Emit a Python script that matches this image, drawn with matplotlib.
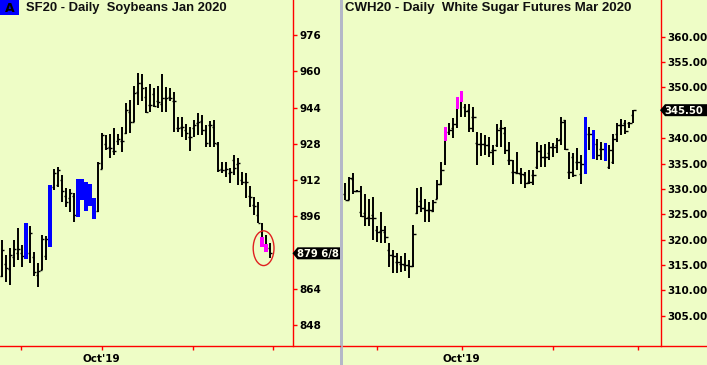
import matplotlib
matplotlib.use("Agg")
import matplotlib.pyplot as plt
from matplotlib.patches import Rectangle, Ellipse, Polygon
from matplotlib.lines import Line2D
import numpy as np

# ---- Soybeans SF20 (daily bars, left panel) ----
sf_high = [885.6, 879.0, 881.9, 885.6, 890.8, 883.4, 893.3, 891.8, 880.5, 875.3,
           887.8, 887.4, 909.9, 916.9, 918.0, 914.3, 908.4, 908.0, 906.2, 912.5,
           912.5, 911.3, 910.5, 904.3, 920.2, 932.6, 931.9, 932.4, 935.2, 932.2,
           935.6, 945.9, 947.4, 953.7, 959.1, 958.7, 953.2, 954.4, 952.5, 953.7,
           958.7, 953.2, 952.8, 951.0, 940.0, 940.0, 936.6, 935.6, 938.5, 941.5,
           940.7, 936.3, 938.2, 938.5, 929.0, 920.2, 920.2, 917.2, 923.1, 921.6,
           915.8, 915.0, 909.4, 904.7, 902.5, 893.0, 887.8, 884.4]
sf_low = [869.4, 867.2, 865.8, 873.9, 876.8, 873.9, 877.4, 875.3, 869.7, 865.0,
          872.4, 876.8, 882.7, 907.7, 909.1, 902.5, 900.3, 898.1, 893.7, 895.9,
          903.3, 898.5, 900.6, 894.9, 898.1, 916.8, 925.3, 921.9, 923.1, 927.5,
          924.6, 932.2, 932.6, 937.5, 945.1, 946.9, 941.5, 941.9, 944.4, 943.7,
          942.2, 941.9, 946.9, 933.4, 933.4, 931.2, 929.7, 924.9, 931.0, 931.9,
          931.9, 926.8, 926.8, 926.8, 915.8, 915.0, 913.5, 910.9, 914.3, 909.9,
          909.9, 904.0, 900.3, 896.6, 893.0, 882.4, 880.5, 877.5]
sf_open = [869.7, 875.0, 873.0, 878.0, 880.0, 880.0, 877.4, 880.0, 878.0, 870.0,
           872.5, 878.6, 882.7, 909.0, 910.0, 912.0, 905.0, 904.0, 905.0, 895.9,
           903.3, 898.5, 900.6, 894.9, 898.4, 916.8, 927.8, 926.8, 925.0, 929.3,
           929.3, 932.6, 942.0, 937.8, 951.0, 955.0, 948.5, 945.0, 950.0, 947.0,
           945.4, 948.0, 948.5, 946.9, 935.0, 935.6, 934.0, 931.0, 935.0, 937.0,
           938.2, 934.0, 936.3, 935.3, 928.0, 917.0, 916.5, 915.0, 920.9, 919.0,
           912.0, 911.3, 905.0, 901.0, 896.6, 887.1, 883.9, 882.0]
sf_close = [881.2, 873.1, 878.9, 881.7, 881.7, 878.6, 893.3, 888.6, 871.7, 872.1,
            885.9, 885.9, 909.9, 915.0, 916.5, 907.4, 902.5, 906.2, 896.6, 912.5,
            912.5, 911.3, 910.5, 904.3, 919.5, 931.9, 926.3, 926.0, 924.8, 930.2,
            929.3, 943.0, 937.8, 950.3, 954.7, 952.8, 941.9, 945.1, 944.8, 946.6,
            948.1, 948.1, 948.1, 946.9, 935.1, 935.6, 933.0, 930.8, 936.3, 937.8,
            934.1, 928.2, 936.3, 928.2, 916.5, 916.5, 917.0, 915.7, 917.2, 919.4,
            911.3, 911.3, 904.7, 900.6, 893.3, 882.4, 880.5, 879.75]
sf_paint = {6: "b", 12: "b", 19: "b", 20: "b", 21: "b", 22: "b", 23: "b",
            65: "m", 66: "m"}
sf_month_ticks = [4.75, 24.9, 47.75, 67.75]
sf_yticks = [848, 864, 896, 912, 928, 944, 960, 976]
sf_last = "879 6/8"

# ---- White Sugar CWH20 (daily bars, right panel) ----
sb_high = [331.1, 332.4, 333.2, 329.8, 330.6, 328.9, 328.1, 328.5, 322.6, 325.5,
           322.6, 319.3, 318.0, 317.3, 316.7, 317.3, 316.0, 322.9, 330.2, 330.4,
           328.1, 327.5, 327.8, 331.7, 335.3, 342.2, 342.9, 344.0, 348.1, 349.2,
           346.8, 346.8, 346.2, 341.2, 341.1, 340.7, 340.3, 338.7, 342.7, 343.5,
           342.2, 339.3, 335.7, 337.3, 334.2, 333.4, 333.7, 333.7, 339.3, 338.6,
           338.8, 339.3, 339.1, 340.1, 344.2, 343.5, 337.3, 337.0, 338.0, 336.7,
           344.2, 342.2, 341.6, 339.9, 339.3, 339.1, 338.6, 340.9, 342.9, 343.7,
           343.5, 343.2, 345.6]
sb_low = [327.8, 327.8, 328.9, 329.4, 324.5, 322.6, 322.6, 319.9, 319.6, 319.3,
          319.3, 314.7, 313.4, 313.4, 313.7, 313.8, 312.5, 314.7, 325.0, 325.5,
          323.5, 323.5, 325.5, 328.1, 330.7, 334.7, 340.7, 340.1, 342.0, 344.2,
          344.2, 341.2, 341.2, 334.7, 336.5, 336.6, 336.3, 334.7, 338.3, 338.3,
          336.8, 334.7, 330.9, 333.0, 330.9, 330.1, 330.9, 330.7, 334.0, 334.4,
          334.4, 335.7, 336.3, 337.0, 338.6, 337.6, 331.9, 332.4, 333.7, 330.9,
          333.0, 337.6, 335.8, 335.7, 335.7, 335.5, 334.0, 335.0, 339.3, 340.6,
          340.9, 341.9, 342.9]
sb_open = [328.9, 327.9, 332.0, 329.6, 325.4, 325.2, 324.5, 324.8, 321.9, 321.8,
           321.5, 318.0, 316.9, 315.6, 315.3, 315.1, 315.0, 314.8, 325.2, 327.6,
           326.2, 325.8, 325.6, 328.1, 330.9, 339.4, 341.2, 342.0, 345.7, 347.1,
           346.2, 345.5, 344.2, 339.0, 338.9, 338.8, 338.7, 337.6, 338.6, 341.9,
           341.0, 335.7, 333.4, 333.2, 333.0, 332.7, 331.3, 332.8, 334.3, 337.5,
           336.3, 337.0, 338.3, 338.6, 339.9, 343.5, 333.4, 336.3, 335.3, 333.0,
           333.0, 340.9, 335.8, 338.9, 337.9, 335.5, 334.3, 335.3, 340.9, 342.6,
           343.0, 342.9, 344.5]
sb_close = [327.9, 332.2, 329.6, 329.6, 324.6, 324.2, 324.2, 324.3, 321.6, 321.9,
            320.6, 317.0, 316.8, 315.7, 315.2, 315.0, 314.9, 321.2, 326.7, 326.2,
            325.8, 325.8, 327.5, 330.9, 333.7, 342.2, 341.6, 342.7, 348.1, 349.2,
            345.3, 341.9, 344.2, 338.8, 338.8, 338.7, 337.3, 337.6, 341.5, 341.9,
            337.6, 335.7, 333.4, 333.2, 333.0, 331.1, 331.3, 332.8, 337.5, 336.3,
            336.3, 338.3, 338.3, 339.6, 343.2, 337.8, 333.4, 332.7, 335.3, 335.0,
            344.2, 340.9, 341.6, 336.7, 337.9, 339.1, 337.6, 339.9, 342.6, 342.6,
            341.4, 342.9, 345.5]
sb_paint = {25: "m", 28: "m", 29: "m", 60: "b", 62: "b", 65: "b"}
sb_month_ticks = [7.9, 29.1, 51.9, 73.1]
sb_yticks = [305, 310, 315, 320, 325, 330, 335, 340, 350, 355, 360]
sb_last = "345.50"

month_labels = ["", "Oct'19", "", ""]

BG = "#EEFDC6"
RED = "#FF0000"
PAINT = {"b": "#0000FF", "m": "#FF00FF"}
W, H = 707, 365


def box(x0, y0, x1, y1):
    return [x0 / W, 1 - y1 / H, (x1 - x0) / W, (y1 - y0) / H]


def draw_bars(ax, hi, lo, op, cl, paint):
    x = np.arange(len(hi))
    black = np.array([i not in paint for i in x])
    ax.vlines(x, lo, hi, colors="black", lw=1.4, zorder=2)
    ax.hlines(np.array(op)[black], x[black] - 0.55, x[black], colors="black", lw=1.0, zorder=2)
    ax.hlines(np.array(cl)[black], x[black], x[black] + 0.55, colors="black", lw=1.0, zorder=2)
    for i, c in paint.items():
        b0, b1 = min(op[i], cl[i]), max(op[i], cl[i])
        ax.bar(i, b1 - b0, bottom=b0, width=0.8, color=PAINT[c], lw=0, zorder=3)


def style(ax, yticks, fmt, month_ticks, ylim, xlim):
    ax.set_facecolor(BG)
    ax.set_xlim(*xlim)
    ax.set_ylim(*ylim)
    for s in ["top", "left", "bottom"]:
        ax.spines[s].set_visible(False)
    ax.spines["right"].set_color(RED)
    ax.spines["right"].set_linewidth(1.0)
    ax.yaxis.tick_right()
    ax.set_yticks(yticks)
    ax.set_yticklabels([fmt.format(v) for v in yticks])
    ax.set_xticks(month_ticks)
    ax.set_xticklabels(month_labels)
    ax.tick_params(axis="y", length=3, width=1, color=RED, pad=1.5,
                   labelsize=7.5, labelcolor="black")
    ax.tick_params(axis="x", length=3, width=1, color=RED, pad=3,
                   labelsize=7.5, labelcolor="black", direction="out")
    for t in ax.get_xticklabels() + ax.get_yticklabels():
        t.set_fontweight("bold")


def last_flag(ax, y, txt, x_tip, x_right):
    # flag drawn in pixels, vertically centred on the last close
    py = ax.transData.transform((0, y))[1]
    pts = [(x_tip, py), (x_tip + 5, py + 6), (x_right, py + 6),
           (x_right, py - 6), (x_tip + 5, py - 6)]
    fig.add_artist(Polygon([(px / W, qy / H) for px, qy in pts], closed=True,
                           transform=fig.transFigure, fc="black", ec="none", zorder=6))
    fig.text((x_tip + 4.5) / W, py / H, txt, ha="left", va="center_baseline",
             fontsize=7.2, fontweight="bold", color="#FFFFF0", zorder=7)


fig = plt.figure(figsize=(W / 100, H / 100), dpi=100, facecolor=BG)

ax1 = fig.add_axes(box(0, 0, 293, 346))
ax2 = fig.add_axes(box(343, 0, 660.7, 346))

draw_bars(ax1, sf_high, sf_low, sf_open, sf_close, sf_paint)
draw_bars(ax2, sb_high, sb_low, sb_open, sb_close, sb_paint)

style(ax1, sf_yticks, "{:d}", sf_month_ticks, (838.9, 991.4), (-0.5, 72.75))
style(ax2, sb_yticks, "{:.2f}", sb_month_ticks, (299.06, 367.2), (-0.575, 78.85))

# bottom red baselines across the full panel width
fig.add_artist(Line2D([0, 340 / W], [1 - 346 / H] * 2, color=RED, lw=1.0))
fig.add_artist(Line2D([343 / W, 1], [1 - 346 / H] * 2, color=RED, lw=1.0))

# separator between the panels
fig.add_artist(Rectangle((340 / W, 0), 3 / W, 1, transform=fig.transFigure,
                         facecolor="#B4B8C8", edgecolor="none"))

# titles
fig.add_artist(Rectangle((0, 1 - 15 / H), 19 / W, 15 / H, transform=fig.transFigure,
                         facecolor="#0000FF", edgecolor="none"))
fig.text(9.5 / W, 1 - 8 / H, "A", ha="center", va="center", fontsize=9,
         fontweight="bold", color="black")
fig.text(26 / W, 1 - 8 / H, "SF20 - Daily  Soybeans Jan 2020", ha="left", va="center",
         fontsize=9.4, fontweight="bold", family="Liberation Sans", color="#101010")
fig.text(345 / W, 1 - 8 / H, "CWH20 - Daily  White Sugar Futures Mar 2020", ha="left",
         va="center", fontsize=9.5, fontweight="bold", family="Liberation Sans",
         color="#101010")

# last price flags
last_flag(ax1, sf_close[-1], sf_last, 292.5, 340)
last_flag(ax2, sb_close[-1], sb_last, 660, 707)

# red circle around the last soybean bars
ax1.add_patch(Ellipse((65.4, 882.0), 5.2, 15.3, fill=False, ec="#E02020", lw=1.0, zorder=4))

fig.savefig("out.png", dpi=100, facecolor=BG)
